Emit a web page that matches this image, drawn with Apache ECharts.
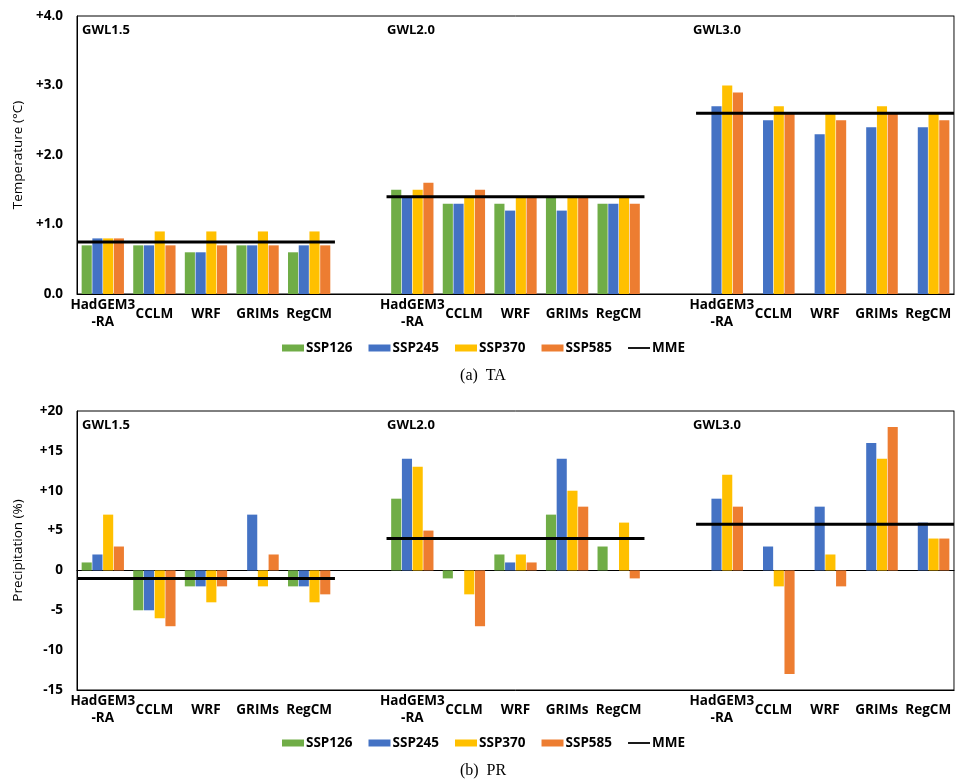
<!DOCTYPE html>
<html>
<head>
<meta charset="utf-8">
<script src="https://cdn.jsdelivr.net/npm/echarts@6/dist/echarts.min.js"></script>
<style>
html,body{margin:0;padding:0;background:#fff;}
#chart{width:962px;height:784px;}
</style>
</head>
<body>
<div id="chart"></div>
<script>
// ---------------- data ----------------
const models = ['HadGEM3\n-RA', 'CCLM', 'WRF', 'GRIMs', 'RegCM'];
const groupLabels = ['GWL1.5', 'GWL2.0', 'GWL3.0'];
const scenarios = ['SSP126', 'SSP245', 'SSP370', 'SSP585'];
const scenarioColors = ['#70AD47', '#4472C4', '#FFC000', '#ED7D31'];

// (a) TA  (temperature change, °C), 5 models x 3 GWLs
const taSSP126 = [0.7, 0.7, 0.6, 0.7, 0.6,   1.5, 1.3, 1.3, 1.4, 1.3,   null, null, null, null, null];
const taSSP245 = [0.8, 0.7, 0.6, 0.7, 0.7,   1.4, 1.3, 1.2, 1.2, 1.3,   2.7, 2.5, 2.3, 2.4, 2.4];
const taSSP370 = [0.8, 0.9, 0.9, 0.9, 0.9,   1.5, 1.4, 1.4, 1.4, 1.4,   3.0, 2.7, 2.6, 2.7, 2.6];
const taSSP585 = [0.8, 0.7, 0.7, 0.7, 0.7,   1.6, 1.5, 1.4, 1.4, 1.3,   2.9, 2.6, 2.5, 2.6, 2.5];
const taMME = [0.75, 1.4, 2.6];
const taTickLabels = ['0.0', '+1.0', '+2.0', '+3.0', '+4.0'];

// (b) PR  (precipitation change, %)
const prSSP126 = [1, -5, -2, 0, -2,     9, -1, 2, 7, 3,     null, null, null, null, null];
const prSSP245 = [2, -5, -2, 7, -2,     14, 0, 1, 14, 0,    9, 3, 8, 16, 6];
const prSSP370 = [7, -6, -4, -2, -4,    13, -3, 2, 10, 6,   12, -2, 2, 14, 4];
const prSSP585 = [3, -7, -2, 2, -3,     5, -7, 1, 8, -1,    8, -13, -2, 18, 4];
const prMME = [-1, 4, 5.8];
const prTickLabels = ['-15', '-10', '-5', '0', '+5', '+10', '+15', '+20'];

// ---------------- helpers ----------------
// categories: 5 models, blank, 5 models, blank, 5 models
const categories = [];
groupLabels.forEach((g, gi) => {
  models.forEach(m => categories.push(m));
  if (gi < groupLabels.length - 1) categories.push('');
});
const nCat = categories.length;

function expand(vals) {
  const out = [];
  for (let g = 0; g < 3; g++) {
    for (let i = 0; i < 5; i++) {
      const v = vals[g * 5 + i];
      out.push(v === null ? '-' : v);
    }
    if (g < 2) out.push('-');
  }
  return out;
}
function mmeLine(mme) {
  const out = [];
  mme.forEach((v, g) => {
    const start = g * 6, end = g * 6 + 5;
    out.push([start, v], [end, v]);
    if (g < mme.length - 1) out.push([end, '-']);
  });
  return out;
}

const FONT = '"Open Sans", "Noto Sans", sans-serif';
const gridLeft = 77, gridRight = 8;
const grids = [
  { left: gridLeft, right: gridRight, top: 16, height: 278 },
  { left: gridLeft, right: gridRight, top: 411, height: 279 }
];

function catAxis(gi) {
  return {
    type: 'category', gridIndex: gi, data: categories,
    axisLine: { show: true, onZero: false, lineStyle: { color: '#000', width: 1 } },
    axisTick: { show: false },
    splitLine: { show: false },
    axisLabel: {
      interval: 0, margin: 20, color: '#000', fontFamily: FONT, fontWeight: 'bold',
      fontSize: 13.5, lineHeight: 17, verticalAlign: 'middle', align: 'center'
    }
  };
}
function valXAxis(gi, showZero) {
  return {
    type: 'value', gridIndex: gi, min: 0, max: nCat, position: 'bottom',
    axisLine: { show: showZero, onZero: true, lineStyle: { color: '#000', width: 1 } },
    axisTick: { show: false }, axisLabel: { show: false }, splitLine: { show: false }
  };
}
function leftY(gi, min, max, interval, ticks, name) {
  return {
    type: 'value', gridIndex: gi, min: min, max: max, interval: interval,
    name: name, nameLocation: 'middle', nameGap: 52,
    nameTextStyle: { color: '#000', fontFamily: FONT, fontSize: 13.5 },
    axisLine: { show: true, lineStyle: { color: '#000' } },
    axisTick: { show: false }, splitLine: { show: false },
    axisLabel: {
      color: '#000', fontFamily: FONT, fontWeight: 'bold', fontSize: 13.5, margin: 14,
      formatter: (v, i) => ticks[i]
    }
  };
}
function rightY(gi, min, max, interval) {
  return {
    type: 'value', gridIndex: gi, min: min, max: max, interval: interval, position: 'right',
    axisLine: { show: true, lineStyle: { color: '#8c8c8c' } },
    axisTick: { show: false }, axisLabel: { show: false }, splitLine: { show: false }
  };
}

const taData = [taSSP126, taSSP245, taSSP370, taSSP585];
const prData = [prSSP126, prSSP245, prSSP370, prSSP585];

const series = [];
[taData, prData].forEach((set, gi) => {
  set.forEach((vals, si) => {
    series.push({
      name: scenarios[si], type: 'bar',
      xAxisIndex: gi * 2, yAxisIndex: gi * 2,
      data: expand(vals),
      barCategoryGap: '18%', barGap: '6%',
      itemStyle: { color: scenarioColors[si] },
      emphasis: { disabled: true }
    });
  });
});
[taMME, prMME].forEach((mme, gi) => {
  series.push({
    name: 'MME', type: 'line',
    xAxisIndex: gi * 2 + 1, yAxisIndex: gi * 2,
    data: mmeLine(mme), symbol: 'none', showSymbol: false, connectNulls: false,
    lineStyle: { color: '#000', width: 3 }, itemStyle: { color: '#000' },
    z: 5, silent: true
  });
});

const lineIcon = 'path://M0,0 M22,7 M0,2.6 L22,2.6 L22,4.4 L0,4.4 Z';
function legend(top) {
  return {
    left: 277, top: top, itemWidth: 22, itemHeight: 7, itemGap: 16,
    data: [
      { name: 'SSP126', icon: 'rect' }, { name: 'SSP245', icon: 'rect' },
      { name: 'SSP370', icon: 'rect' }, { name: 'SSP585', icon: 'rect' },
      { name: 'MME', icon: lineIcon, itemStyle: { color: '#000' } }
    ],
    textStyle: { color: '#000', fontFamily: FONT, fontWeight: 'bold', fontSize: 13.5, padding: [0, 0, 0, -3] }
  };
}

const graphics = [];
[30, 425].forEach(yc => {
  const xs = [82, 387, 693];
  groupLabels.forEach((g, i) => {
    graphics.push({
      type: 'text', x: xs[i], y: yc,
      style: { text: g, fill: '#000', font: 'bold 13px ' + FONT, textVerticalAlign: 'middle' }
    });
  });
});
graphics.push({ type: 'text', x: 483, y: 376,
  style: { text: '(a)  TA', fill: '#000', font: '16px "Liberation Serif", serif', textAlign: 'center', textVerticalAlign: 'middle' } });
graphics.push({ type: 'text', x: 483, y: 771,
  style: { text: '(b)  PR', fill: '#000', font: '16px "Liberation Serif", serif', textAlign: 'center', textVerticalAlign: 'middle' } });

const option = {
  animation: false,
  backgroundColor: '#fff',
  grid: grids.map(g => Object.assign({ show: true, borderColor: '#000', borderWidth: 1, backgroundColor: 'transparent' }, g)),
  xAxis: [catAxis(0), valXAxis(0, false), catAxis(1), valXAxis(1, true)],
  yAxis: [
    leftY(0, 0, 4, 1, taTickLabels, 'Temperature (\u00B0C)'),
    rightY(0, 0, 4, 1),
    leftY(1, -15, 20, 5, prTickLabels, 'Precipitation (%)'),
    rightY(1, -15, 20, 5)
  ],
  legend: [legend(336), legend(731)],
  graphic: graphics,
  series: series
};

const chart = echarts.init(document.getElementById('chart'), null, { renderer: 'canvas' });
chart.setOption(option);
</script>
</body>
</html>
